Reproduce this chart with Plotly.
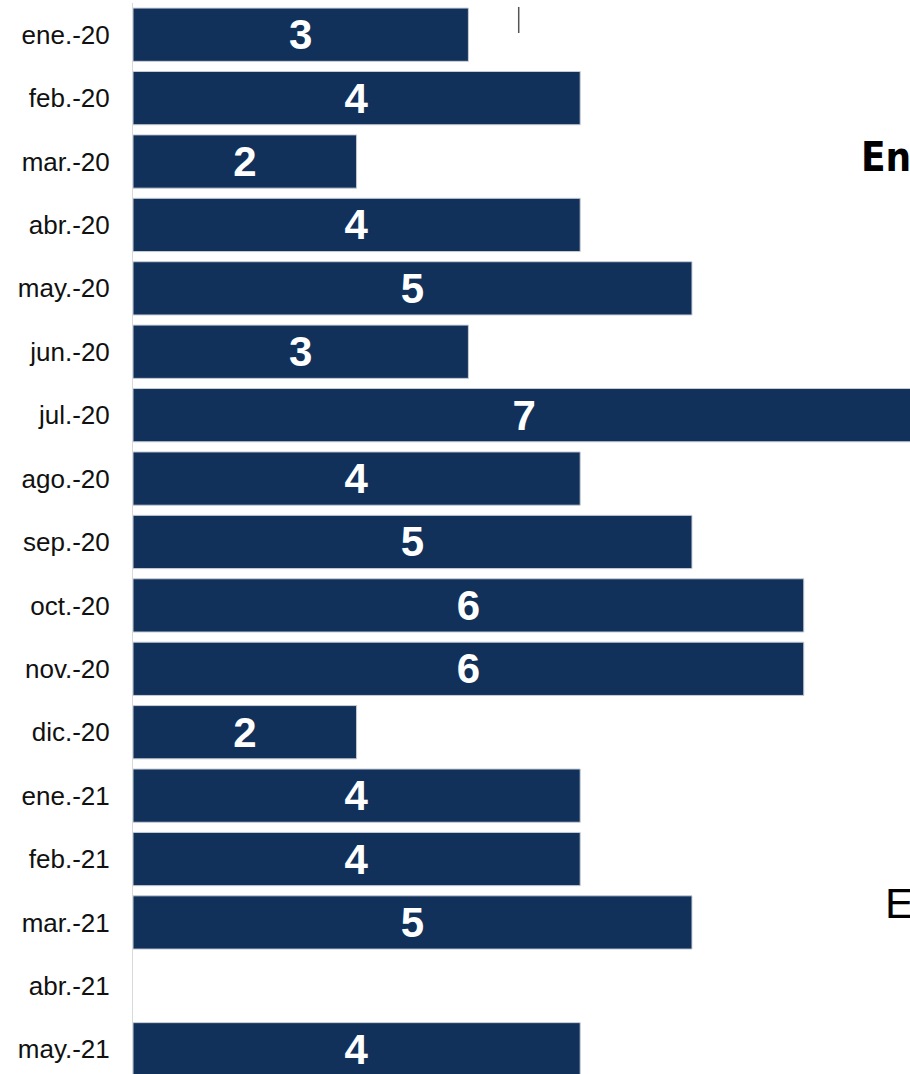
import plotly.graph_objects as go

categories = ["ene.-20", "feb.-20", "mar.-20", "abr.-20", "may.-20", "jun.-20",
              "jul.-20", "ago.-20", "sep.-20", "oct.-20", "nov.-20", "dic.-20",
              "ene.-21", "feb.-21", "mar.-21", "abr.-21", "may.-21"]
values = [3, 4, 2, 4, 5, 3, 7, 4, 5, 6, 6, 2, 4, 4, 5, None, 4]
labels = ["" if v is None else str(v) for v in values]

bar_color = "#11315B"

fig = go.Figure()
fig.add_trace(go.Bar(
    y=categories, x=values, orientation="h",
    marker=dict(color=bar_color, line=dict(color="#c8cdd6", width=1)),
    text=labels, textposition="inside", insidetextanchor="middle",
    textfont=dict(family="Liberation Sans, Arial", size=42, color="white", weight="bold"),
))

fig.add_shape(type="line", xref="x", yref="paper", x0=3.45, x1=3.45, y0=0.9963, y1=0.972,
              line=dict(color="#555555", width=1.5))

fig.add_annotation(text="<b>En</b>", xref="paper", yref="paper", x=0.8375, y=0.8562,
                   xanchor="left", yanchor="middle", showarrow=False,
                   font=dict(family="DejaVu Sans Condensed, DejaVu Sans", size=40, color="black"))
fig.add_annotation(text="E", xref="paper", yref="paper", x=0.8655, y=0.1597,
                   xanchor="left", yanchor="middle", showarrow=False,
                   font=dict(family="Liberation Sans, Arial", size=43, color="black"))

fig.update_layout(
    width=1000, height=1074,
    margin=dict(l=133, r=0, t=3, b=0),
    paper_bgcolor="white", plot_bgcolor="white",
    bargap=0.16, showlegend=False,
    uniformtext=dict(minsize=10, mode="show"),
)
fig.update_xaxes(range=[0, 7.755], visible=False, showgrid=False, zeroline=False)
fig.update_yaxes(categoryorder="array", categoryarray=categories,
                 range=[16.39, -0.5], showgrid=False, zeroline=False,
                 showline=True, linecolor="#d9d9d9", linewidth=1,
                 ticks="", ticklabelstandoff=17,
                 tickfont=dict(family="Liberation Sans, Arial", size=26, color="#111111"))

fig.write_html("out.html", config={"displayModeBar": False},
               post_script="document.body.style.margin='0';document.body.style.overflow='hidden';")
